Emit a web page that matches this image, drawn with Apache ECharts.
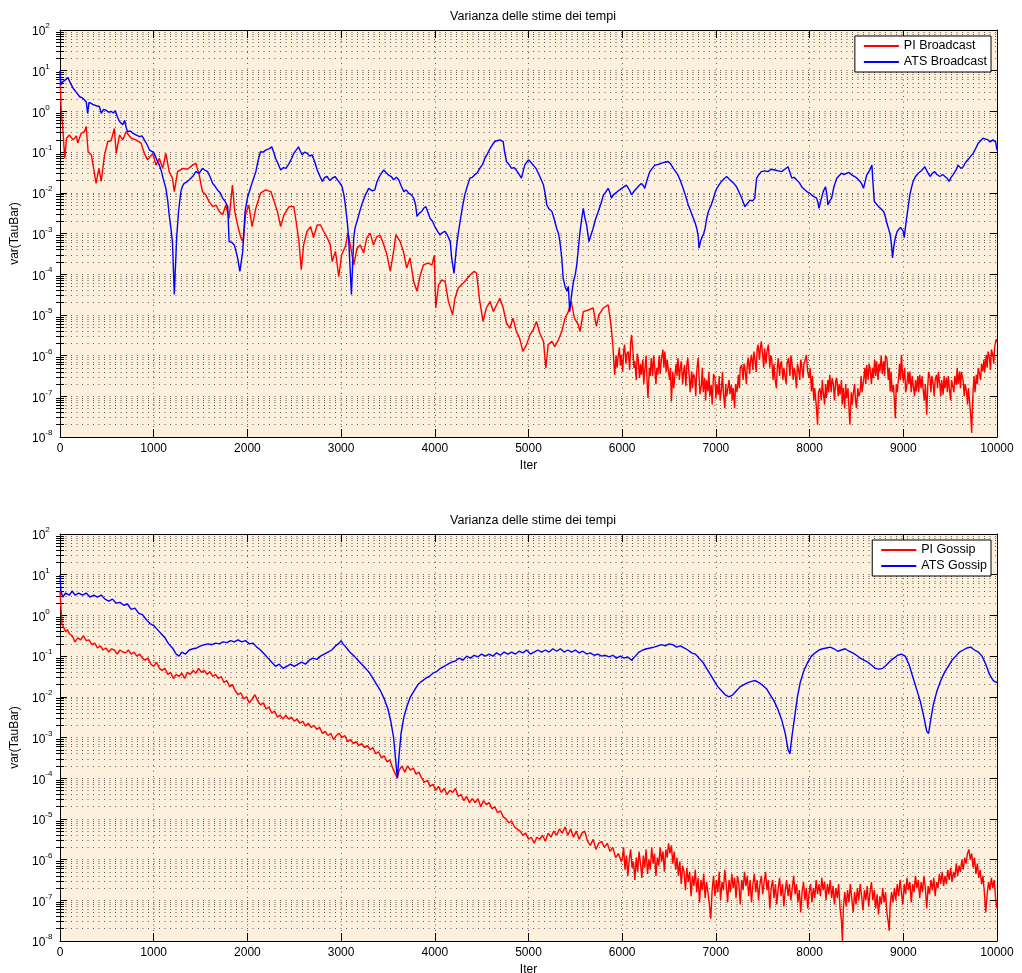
<!DOCTYPE html>
<html>
<head>
<meta charset="utf-8">
<title>Varianza delle stime dei tempi</title>
<script src="https://cdn.jsdelivr.net/npm/echarts@6/dist/echarts.min.js"></script>
<style>
  html, body { margin: 0; padding: 0; background: #ffffff; }
  #chart { width: 1022px; height: 973px; }
</style>
</head>
<body>
<div id="chart"></div>
<script>
// Each series is a list of [iteration, log10(variance)] pairs.
const piBroadcast = [[0,1.0],[8,0.3],[15,-0.1],[25,-0.25],[50,-1.15],[70,-0.66],[100,-0.58],[140,-0.7],[175,-0.6],[190,-0.78],[225,-0.54],[260,-0.5],[280,-0.37],[300,-0.99],[335,-1.07],[370,-1.56],[385,-1.77],[415,-1.4],[440,-1.72],[475,-1.07],[510,-0.74],[545,-0.72],[580,-0.42],[600,-1.03],[635,-0.58],[670,-0.7],[705,-0.5],[760,-0.66],[810,-0.7],[865,-0.78],[900,-1.03],[935,-1.19],[990,-1.03],[1025,-1.32],[1060,-1.15],[1095,-1.4],[1130,-1.03],[1165,-1.48],[1200,-1.64],[1220,-1.97],[1255,-1.48],[1310,-1.4],[1360,-1.42],[1415,-1.32],[1450,-1.27],[1485,-1.56],[1520,-1.97],[1555,-2.05],[1590,-2.21],[1630,-2.34],[1665,-2.3],[1700,-2.46],[1735,-2.54],[1770,-2.3],[1805,-2.63],[1840,-1.81],[1865,-2.46],[1895,-2.79],[1930,-3.1],[1955,-3.2],[1980,-2.54],[2015,-2.3],[2050,-2.83],[2090,-2.38],[2140,-2.01],[2195,-1.93],[2250,-1.97],[2285,-2.21],[2320,-2.46],[2355,-2.83],[2390,-2.54],[2445,-2.34],[2495,-2.34],[2520,-2.7],[2550,-3.2],[2575,-3.89],[2600,-3.28],[2635,-2.95],[2675,-2.83],[2705,-3.1],[2745,-2.79],[2780,-2.79],[2815,-2.95],[2850,-3.1],[2885,-3.28],[2905,-3.69],[2940,-3.44],[2975,-4.06],[3005,-3.53],[3045,-3.32],[3075,-2.99],[3110,-3.44],[3135,-3.77],[3170,-3.36],[3205,-3.28],[3240,-3.48],[3275,-3.1],[3310,-2.99],[3345,-3.28],[3380,-3.08],[3415,-3.04],[3450,-3.24],[3490,-3.53],[3525,-3.93],[3560,-3.44],[3585,-3.03],[3630,-3.2],[3665,-3.44],[3700,-3.85],[3735,-3.6],[3775,-4.18],[3810,-4.42],[3845,-4.02],[3880,-3.77],[3925,-3.73],[3970,-3.77],[3995,-3.53],[4010,-4.83],[4040,-4.26],[4075,-4.14],[4110,-4.18],[4145,-4.67],[4190,-5.0],[4215,-4.59],[4250,-4.34],[4285,-4.26],[4320,-4.18],[4375,-4.02],[4420,-3.93],[4445,-3.97],[4480,-4.67],[4515,-5.16],[4550,-4.83],[4590,-4.67],[4625,-4.92],[4660,-4.75],[4695,-4.59],[4730,-4.83],[4765,-5.2],[4800,-5.33],[4835,-5.08],[4870,-5.41],[4905,-5.57],[4940,-5.9],[4980,-5.73],[5015,-5.49],[5050,-5.37],[5085,-5.16],[5120,-5.45],[5160,-5.65],[5185,-6.31],[5210,-5.73],[5250,-5.65],[5280,-5.78],[5320,-5.61],[5355,-5.41],[5390,-5.08],[5425,-4.92],[5455,-4.67],[5490,-5.08],[5530,-5.24],[5550,-5.41],[5585,-4.92],[5640,-4.88],[5690,-4.83],[5725,-5.28],[5750,-5.0],[5800,-4.83],[5850,-4.75],[5880,-5.24],[5900,-5.73],[5912,-6.2],[5920,-6.47],[5935,-6.0],[5945,-6.3],[5955,-6.06],[5970,-5.8],[5980,-6.25],[5990,-5.98],[6005,-6.4],[6015,-5.9],[6025,-5.73],[6040,-6.2],[6050,-5.95],[6065,-5.9],[6080,-6.35],[6090,-5.7],[6100,-5.49],[6115,-5.9],[6125,-6.3],[6135,-6.14],[6150,-6.6],[6160,-5.95],[6170,-6.06],[6185,-6.55],[6195,-6.2],[6205,-6.47],[6220,-6.1],[6230,-6.7],[6240,-6.39],[6255,-6.0],[6265,-6.6],[6275,-7.04],[6290,-6.3],[6300,-6.5],[6310,-6.06],[6325,-6.5],[6335,-6.0],[6345,-6.23],[6360,-6.7],[6370,-6.3],[6380,-6.47],[6395,-6.0],[6405,-6.45],[6420,-6.06],[6435,-5.85],[6445,-6.3],[6455,-5.9],[6470,-6.4],[6480,-6.1],[6490,-6.06],[6505,-6.6],[6515,-6.3],[6525,-7.13],[6540,-6.4],[6550,-6.8],[6560,-6.55],[6575,-6.2],[6585,-6.5],[6595,-6.06],[6610,-6.6],[6620,-6.3],[6630,-6.14],[6645,-6.7],[6655,-6.4],[6665,-6.23],[6680,-6.75],[6690,-6.2],[6700,-6.06],[6715,-6.5],[6725,-6.9],[6740,-6.39],[6750,-6.8],[6760,-6.45],[6775,-6.55],[6785,-7.0],[6795,-6.4],[6810,-6.06],[6820,-6.5],[6830,-6.95],[6845,-6.72],[6855,-6.3],[6865,-6.9],[6880,-6.55],[6890,-7.1],[6900,-6.6],[6915,-6.88],[6925,-6.4],[6935,-7.0],[6950,-6.72],[6960,-7.2],[6975,-6.45],[6990,-6.55],[7000,-7.05],[7010,-6.7],[7025,-6.96],[7035,-6.5],[7045,-7.1],[7060,-6.8],[7070,-6.4],[7080,-6.9],[7095,-7.29],[7105,-6.7],[7115,-7.0],[7130,-7.04],[7140,-6.6],[7150,-6.95],[7165,-6.72],[7175,-7.1],[7185,-6.8],[7200,-7.29],[7210,-6.7],[7225,-6.9],[7240,-6.47],[7250,-6.8],[7260,-6.3],[7275,-6.23],[7290,-6.6],[7300,-6.2],[7310,-6.31],[7325,-6.7],[7335,-6.2],[7345,-6.06],[7360,-6.45],[7370,-6.1],[7380,-5.98],[7395,-6.35],[7405,-5.9],[7415,-6.06],[7430,-6.4],[7440,-5.85],[7450,-5.73],[7465,-6.1],[7475,-5.8],[7485,-5.65],[7500,-6.0],[7510,-6.3],[7520,-5.82],[7535,-6.2],[7545,-5.9],[7560,-5.73],[7575,-6.3],[7585,-6.0],[7595,-6.06],[7610,-6.6],[7620,-6.2],[7630,-6.55],[7645,-6.8],[7655,-6.3],[7665,-6.06],[7680,-6.5],[7690,-6.2],[7700,-6.14],[7715,-6.6],[7725,-6.3],[7740,-6.31],[7750,-6.7],[7760,-6.2],[7775,-6.06],[7790,-6.5],[7800,-6.0],[7810,-6.14],[7825,-6.6],[7835,-6.3],[7845,-6.39],[7860,-6.8],[7870,-6.2],[7880,-6.31],[7895,-6.6],[7905,-6.1],[7915,-6.23],[7930,-6.55],[7940,-6.2],[7950,-6.14],[7965,-5.98],[7980,-6.4],[7995,-6.55],[8005,-6.3],[8020,-6.88],[8030,-6.5],[8045,-7.1],[8055,-6.8],[8070,-7.2],[8085,-7.7],[8095,-6.9],[8110,-6.8],[8125,-7.1],[8135,-6.6],[8145,-6.88],[8160,-7.2],[8170,-6.7],[8180,-7.04],[8195,-6.6],[8205,-6.9],[8215,-6.47],[8230,-6.9],[8240,-6.55],[8255,-6.72],[8265,-7.1],[8280,-6.6],[8290,-6.55],[8305,-7.0],[8315,-6.7],[8325,-6.96],[8340,-6.6],[8350,-7.2],[8360,-6.8],[8375,-7.3],[8385,-6.7],[8395,-7.04],[8410,-6.8],[8420,-7.3],[8430,-7.7],[8445,-6.9],[8455,-7.2],[8465,-6.96],[8480,-6.7],[8490,-7.1],[8500,-7.29],[8515,-6.8],[8525,-7.0],[8540,-6.88],[8550,-6.5],[8560,-6.9],[8575,-6.64],[8590,-6.3],[8600,-6.7],[8610,-6.23],[8625,-6.6],[8635,-6.2],[8645,-6.31],[8660,-6.7],[8670,-6.3],[8680,-6.55],[8695,-6.1],[8705,-6.5],[8715,-6.14],[8730,-6.6],[8740,-6.2],[8750,-6.39],[8765,-6.0],[8775,-6.45],[8790,-6.14],[8800,-6.5],[8810,-6.0],[8825,-6.06],[8840,-6.6],[8850,-6.3],[8860,-6.88],[8870,-6.4],[8880,-6.9],[8895,-6.72],[8905,-7.1],[8915,-7.54],[8925,-6.7],[8935,-6.9],[8950,-6.55],[8960,-6.2],[8970,-6.6],[8980,-5.98],[8990,-6.4],[9000,-6.64],[9015,-6.3],[9025,-6.9],[9035,-6.8],[9050,-6.4],[9060,-6.7],[9070,-6.39],[9085,-6.9],[9095,-6.5],[9105,-6.72],[9120,-7.0],[9130,-6.6],[9140,-6.88],[9155,-6.5],[9165,-6.9],[9175,-6.47],[9190,-6.8],[9200,-6.5],[9210,-6.8],[9225,-7.1],[9235,-6.7],[9250,-7.45],[9260,-6.8],[9270,-6.4],[9285,-6.55],[9295,-6.9],[9305,-6.5],[9320,-6.72],[9330,-7.0],[9340,-6.6],[9355,-6.47],[9365,-6.8],[9375,-6.4],[9390,-6.72],[9400,-7.0],[9410,-6.6],[9425,-6.96],[9435,-6.5],[9445,-6.8],[9460,-6.55],[9470,-6.9],[9480,-6.5],[9495,-6.88],[9505,-7.1],[9515,-6.6],[9530,-6.64],[9540,-6.9],[9550,-6.5],[9565,-6.72],[9575,-6.3],[9585,-6.7],[9600,-6.39],[9610,-6.8],[9620,-6.4],[9640,-6.64],[9650,-7.0],[9660,-6.7],[9675,-6.88],[9685,-7.2],[9695,-6.8],[9710,-7.21],[9720,-7.5],[9730,-7.9],[9738,-7.2],[9745,-6.88],[9755,-6.5],[9765,-6.9],[9780,-6.47],[9790,-6.7],[9800,-6.3],[9815,-6.31],[9825,-6.6],[9835,-6.2],[9850,-6.39],[9860,-6.1],[9870,-6.4],[9885,-5.98],[9895,-6.3],[9905,-5.9],[9920,-6.06],[9930,-6.35],[9940,-5.85],[9955,-5.98],[9965,-6.2],[9975,-5.8],[9990,-5.6],[10000,-5.67]];

const atsBroadcast = [[0,1.0],[10,0.65],[25,0.72],[40,0.7],[60,0.78],[85,0.83],[110,0.7],[140,0.57],[170,0.48],[210,0.36],[240,0.33],[280,0.24],[295,-0.05],[310,0.22],[330,0.19],[350,0.17],[385,0.14],[420,0.12],[440,-0.05],[465,0.05],[490,0.03],[520,-0.02],[545,0.0],[570,-0.04],[590,0.02],[610,-0.12],[635,-0.25],[670,-0.33],[690,-0.22],[705,-0.38],[720,-0.5],[750,-0.48],[780,-0.54],[815,-0.58],[850,-0.62],[875,-0.6],[900,-0.7],[930,-0.82],[955,-0.95],[980,-0.98],[1005,-1.03],[1035,-1.2],[1060,-1.32],[1080,-1.45],[1100,-1.64],[1130,-1.89],[1150,-2.2],[1165,-2.54],[1185,-2.9],[1200,-3.2],[1220,-4.5],[1245,-3.1],[1265,-2.46],[1290,-1.97],[1305,-1.85],[1325,-1.77],[1350,-1.74],[1380,-1.68],[1415,-1.6],[1450,-1.48],[1485,-1.52],[1520,-1.4],[1545,-1.44],[1575,-1.48],[1600,-1.6],[1630,-1.77],[1655,-1.84],[1680,-1.93],[1710,-2.0],[1735,-2.13],[1760,-2.2],[1790,-2.34],[1805,-3.2],[1835,-3.22],[1860,-3.28],[1880,-3.45],[1895,-3.6],[1920,-3.93],[1950,-3.44],[1975,-2.46],[2000,-2.13],[2030,-1.9],[2055,-1.72],[2090,-1.48],[2115,-1.2],[2140,-0.99],[2170,-1.0],[2195,-0.95],[2230,-0.92],[2260,-0.87],[2280,-1.0],[2300,-1.15],[2330,-1.3],[2355,-1.44],[2385,-1.38],[2410,-1.4],[2440,-1.3],[2460,-1.27],[2480,-1.12],[2495,-1.03],[2520,-0.95],[2545,-0.87],[2565,-0.98],[2585,-1.07],[2610,-1.0],[2640,-1.03],[2665,-1.1],[2690,-1.07],[2720,-1.25],[2745,-1.44],[2775,-1.6],[2800,-1.72],[2825,-1.62],[2850,-1.6],[2880,-1.7],[2905,-1.64],[2935,-1.6],[2960,-1.68],[2985,-1.75],[3010,-1.85],[3030,-2.05],[3045,-2.3],[3065,-2.7],[3080,-3.1],[3110,-4.5],[3135,-3.1],[3150,-2.85],[3170,-2.7],[3200,-2.45],[3225,-2.26],[3260,-2.05],[3295,-1.89],[3330,-1.95],[3360,-1.93],[3380,-1.75],[3400,-1.64],[3430,-1.52],[3455,-1.44],[3480,-1.5],[3505,-1.56],[3535,-1.6],[3560,-1.68],[3590,-1.62],[3615,-1.68],[3645,-1.85],[3670,-1.97],[3695,-1.93],[3720,-2.01],[3750,-2.05],[3775,-2.13],[3795,-2.3],[3810,-2.58],[3835,-2.5],[3860,-2.46],[3880,-2.38],[3905,-2.34],[3930,-2.5],[3950,-2.63],[3975,-2.7],[4000,-2.83],[4030,-2.95],[4055,-3.03],[4080,-2.98],[4110,-2.95],[4130,-3.02],[4150,-2.99],[4165,-3.2],[4180,-3.6],[4205,-3.98],[4230,-3.36],[4250,-3.0],[4270,-2.7],[4295,-2.35],[4320,-2.05],[4345,-1.85],[4375,-1.64],[4400,-1.62],[4425,-1.56],[4455,-1.5],[4480,-1.4],[4510,-1.3],[4535,-1.15],[4560,-1.05],[4590,-0.91],[4615,-0.82],[4640,-0.74],[4665,-0.72],[4695,-0.7],[4730,-0.74],[4745,-1.0],[4765,-1.23],[4790,-1.3],[4820,-1.4],[4845,-1.38],[4870,-1.44],[4900,-1.55],[4925,-1.64],[4945,-1.45],[4960,-1.32],[4980,-1.25],[5000,-1.19],[5025,-1.25],[5050,-1.32],[5080,-1.4],[5105,-1.52],[5130,-1.65],[5160,-1.81],[5180,-2.05],[5195,-2.3],[5220,-2.4],[5250,-2.46],[5275,-2.65],[5300,-2.87],[5320,-3.0],[5335,-3.2],[5355,-3.6],[5370,-4.1],[5390,-4.3],[5410,-4.42],[5425,-4.3],[5440,-4.92],[5460,-4.5],[5480,-4.18],[5500,-4.0],[5515,-3.77],[5535,-3.3],[5550,-2.95],[5570,-2.6],[5585,-2.38],[5600,-2.6],[5620,-2.79],[5645,-3.2],[5665,-3.05],[5690,-2.87],[5715,-2.65],[5745,-2.46],[5775,-2.25],[5800,-2.05],[5825,-1.98],[5850,-1.89],[5870,-2.0],[5885,-2.13],[5905,-2.05],[5920,-2.01],[5960,-1.95],[5995,-1.89],[6020,-1.85],[6045,-1.81],[6075,-1.92],[6100,-2.05],[6130,-1.95],[6155,-1.89],[6180,-1.82],[6205,-1.77],[6225,-1.82],[6240,-1.89],[6270,-1.65],[6295,-1.48],[6320,-1.4],[6350,-1.32],[6385,-1.3],[6420,-1.27],[6455,-1.25],[6490,-1.23],[6520,-1.3],[6545,-1.4],[6570,-1.48],[6595,-1.56],[6620,-1.7],[6650,-1.89],[6680,-2.1],[6705,-2.3],[6730,-2.45],[6760,-2.63],[6780,-2.75],[6795,-2.87],[6810,-3.05],[6820,-3.36],[6835,-3.2],[6850,-3.1],[6870,-3.0],[6885,-2.87],[6900,-2.65],[6920,-2.46],[6950,-2.3],[6975,-2.13],[6990,-2.0],[7010,-1.89],[7035,-1.8],[7060,-1.72],[7090,-1.65],[7115,-1.6],[7140,-1.66],[7170,-1.72],[7195,-1.78],[7220,-1.85],[7250,-2.0],[7275,-2.13],[7295,-2.25],[7310,-2.34],[7340,-2.25],[7365,-2.18],[7390,-2.2],[7415,-2.13],[7425,-1.85],[7435,-1.64],[7460,-1.55],[7485,-1.48],[7520,-1.46],[7555,-1.48],[7590,-1.42],[7630,-1.44],[7665,-1.46],[7700,-1.48],[7735,-1.42],[7770,-1.36],[7790,-1.5],[7810,-1.64],[7835,-1.62],[7860,-1.68],[7890,-1.75],[7915,-1.85],[7945,-1.92],[7970,-1.97],[7995,-2.0],[8020,-2.05],[8050,-2.1],[8075,-2.13],[8090,-2.25],[8100,-2.38],[8125,-2.15],[8145,-1.97],[8170,-1.85],[8185,-2.05],[8195,-2.3],[8215,-2.2],[8235,-2.13],[8260,-1.85],[8290,-1.64],[8315,-1.58],[8340,-1.52],[8370,-1.55],[8395,-1.52],[8420,-1.5],[8450,-1.56],[8480,-1.6],[8505,-1.64],[8540,-1.72],[8560,-1.8],[8575,-1.89],[8595,-1.7],[8610,-1.56],[8640,-1.45],[8665,-1.32],[8675,-1.7],[8690,-2.21],[8715,-2.28],[8735,-2.34],[8765,-2.4],[8790,-2.46],[8810,-2.6],[8825,-2.75],[8845,-2.9],[8860,-3.03],[8875,-3.3],[8885,-3.6],[8900,-3.3],[8915,-3.1],[8935,-2.95],[8950,-2.9],[8970,-2.85],[8985,-2.87],[9000,-2.95],[9010,-3.1],[9020,-2.9],[9035,-2.63],[9055,-2.3],[9070,-2.05],[9090,-1.85],[9105,-1.72],[9130,-1.6],[9160,-1.52],[9195,-1.45],[9230,-1.36],[9260,-1.5],[9285,-1.6],[9310,-1.52],[9335,-1.48],[9360,-1.55],[9390,-1.6],[9420,-1.55],[9445,-1.6],[9470,-1.65],[9490,-1.72],[9510,-1.62],[9530,-1.56],[9560,-1.45],[9585,-1.32],[9615,-1.4],[9640,-1.36],[9665,-1.25],[9690,-1.19],[9720,-1.1],[9745,-1.03],[9775,-0.9],[9800,-0.78],[9825,-0.72],[9850,-0.66],[9880,-0.68],[9905,-0.7],[9925,-0.75],[9940,-0.78],[9955,-0.7],[9970,-0.66],[9985,-0.75],[10000,-0.95]];

const piGossip = [[0,0.6],[10,0.2],[20,-0.2],[40,-0.3],[60,-0.4],[80,-0.35],[100,-0.45],[130,-0.5],[160,-0.65],[190,-0.55],[220,-0.6],[250,-0.5],[280,-0.62],[310,-0.6],[340,-0.72],[370,-0.68],[400,-0.8],[430,-0.75],[460,-0.85],[490,-0.8],[520,-0.9],[550,-0.82],[580,-0.85],[610,-0.95],[640,-0.85],[670,-0.9],[700,-0.92],[730,-0.85],[760,-0.95],[790,-0.9],[820,-1.0],[850,-0.95],[880,-1.05],[910,-1.1],[940,-1.05],[970,-1.2],[1000,-1.25],[1030,-1.15],[1060,-1.3],[1090,-1.35],[1120,-1.3],[1150,-1.45],[1180,-1.4],[1210,-1.55],[1240,-1.45],[1270,-1.5],[1300,-1.42],[1330,-1.55],[1360,-1.4],[1390,-1.45],[1420,-1.35],[1450,-1.42],[1480,-1.3],[1510,-1.4],[1540,-1.35],[1570,-1.45],[1600,-1.38],[1630,-1.5],[1660,-1.45],[1690,-1.55],[1720,-1.5],[1750,-1.65],[1780,-1.6],[1810,-1.75],[1840,-1.7],[1870,-1.85],[1900,-1.95],[1930,-1.9],[1960,-2.05],[1990,-2.0],[2020,-2.15],[2050,-2.05],[2080,-1.95],[2110,-2.1],[2140,-2.2],[2170,-2.15],[2200,-2.3],[2230,-2.25],[2260,-2.4],[2290,-2.35],[2320,-2.5],[2350,-2.45],[2380,-2.55],[2410,-2.45],[2440,-2.55],[2470,-2.5],[2500,-2.6],[2530,-2.55],[2560,-2.65],[2590,-2.6],[2620,-2.72],[2650,-2.65],[2680,-2.75],[2710,-2.7],[2740,-2.8],[2770,-2.75],[2800,-2.9],[2830,-2.85],[2860,-2.95],[2890,-2.9],[2920,-3.05],[2950,-2.95],[2980,-2.9],[3010,-3.0],[3040,-2.95],[3070,-3.1],[3100,-3.05],[3130,-3.15],[3160,-3.1],[3190,-3.2],[3220,-3.15],[3250,-3.25],[3280,-3.2],[3310,-3.3],[3340,-3.25],[3370,-3.4],[3400,-3.35],[3430,-3.5],[3460,-3.45],[3490,-3.6],[3520,-3.55],[3550,-3.75],[3580,-3.9],[3600,-4.0],[3620,-3.8],[3650,-3.7],[3680,-3.85],[3710,-3.7],[3740,-3.8],[3770,-3.75],[3800,-3.9],[3830,-3.85],[3860,-4.0],[3890,-4.1],[3920,-4.05],[3950,-4.2],[3980,-4.15],[4010,-4.3],[4040,-4.2],[4070,-4.35],[4100,-4.25],[4130,-4.4],[4160,-4.3],[4190,-4.35],[4220,-4.25],[4250,-4.45],[4280,-4.4],[4310,-4.55],[4340,-4.45],[4370,-4.6],[4400,-4.5],[4430,-4.6],[4460,-4.5],[4490,-4.7],[4520,-4.55],[4550,-4.65],[4580,-4.6],[4610,-4.75],[4640,-4.7],[4670,-4.85],[4700,-4.8],[4730,-4.95],[4760,-5.0],[4790,-5.1],[4820,-5.05],[4850,-5.2],[4880,-5.25],[4910,-5.3],[4940,-5.4],[4970,-5.35],[5000,-5.5],[5030,-5.45],[5060,-5.6],[5090,-5.45],[5120,-5.5],[5150,-5.4],[5180,-5.55],[5210,-5.35],[5240,-5.45],[5270,-5.3],[5300,-5.4],[5330,-5.25],[5360,-5.35],[5390,-5.2],[5420,-5.4],[5450,-5.25],[5480,-5.45],[5510,-5.3],[5540,-5.5],[5570,-5.35],[5600,-5.3],[5630,-5.55],[5660,-5.65],[5690,-5.5],[5720,-5.75],[5750,-5.6],[5780,-5.55],[5810,-5.7],[5840,-5.6],[5870,-5.8],[5900,-5.7],[5930,-5.95],[5960,-5.85],[5990,-6.05],[6000,-6.0],[6015,-5.7],[6030,-6.25],[6045,-5.9],[6060,-6.4],[6075,-6.0],[6090,-5.75],[6105,-6.2],[6120,-6.05],[6135,-6.5],[6150,-5.95],[6165,-6.3],[6180,-5.8],[6195,-6.1],[6210,-6.45],[6225,-5.9],[6240,-6.2],[6255,-5.75],[6270,-6.35],[6285,-6.0],[6300,-6.25],[6315,-5.7],[6330,-6.1],[6345,-5.85],[6360,-6.4],[6375,-5.95],[6390,-6.15],[6405,-5.7],[6420,-6.05],[6435,-5.8],[6450,-6.3],[6465,-5.75],[6480,-5.95],[6495,-5.6],[6510,-5.85],[6525,-5.65],[6540,-6.1],[6555,-5.8],[6570,-6.25],[6585,-5.95],[6600,-6.4],[6615,-6.05],[6630,-6.6],[6645,-6.15],[6660,-6.3],[6675,-6.75],[6690,-6.2],[6705,-6.55],[6720,-6.3],[6735,-6.9],[6750,-6.4],[6765,-6.65],[6780,-6.25],[6795,-6.8],[6810,-6.45],[6825,-7.05],[6840,-6.5],[6855,-6.75],[6870,-6.35],[6885,-6.95],[6900,-6.55],[6915,-6.8],[6930,-7.1],[6945,-7.45],[6960,-6.75],[6975,-6.4],[6990,-6.9],[7005,-6.5],[7020,-6.8],[7035,-6.3],[7050,-7.0],[7065,-6.55],[7080,-6.75],[7095,-6.25],[7110,-6.6],[7125,-7.05],[7140,-6.5],[7155,-6.8],[7170,-6.35],[7185,-6.7],[7200,-6.45],[7215,-6.95],[7230,-6.4],[7245,-6.6],[7260,-7.1],[7275,-6.5],[7290,-6.75],[7305,-6.3],[7320,-6.65],[7335,-6.4],[7350,-6.9],[7365,-6.5],[7380,-7.05],[7395,-6.6],[7410,-6.35],[7425,-6.8],[7440,-6.5],[7455,-7.0],[7470,-6.6],[7485,-6.4],[7500,-6.85],[7515,-6.55],[7530,-6.3],[7545,-6.75],[7560,-6.5],[7575,-7.2],[7590,-6.7],[7605,-6.5],[7620,-6.95],[7635,-6.6],[7650,-7.1],[7665,-6.7],[7680,-6.45],[7695,-6.9],[7710,-6.6],[7725,-7.15],[7740,-6.75],[7755,-6.5],[7770,-6.9],[7785,-6.6],[7800,-7.0],[7815,-6.7],[7830,-6.4],[7845,-6.85],[7860,-6.6],[7875,-7.05],[7890,-6.75],[7905,-7.3],[7920,-6.8],[7935,-6.55],[7950,-7.0],[7965,-6.7],[7980,-7.2],[7995,-6.8],[8010,-6.6],[8025,-7.05],[8040,-6.7],[8055,-6.95],[8070,-6.5],[8085,-6.85],[8100,-6.6],[8115,-6.9],[8130,-6.45],[8145,-6.75],[8160,-6.55],[8175,-7.0],[8190,-6.6],[8205,-6.85],[8220,-6.5],[8235,-6.95],[8250,-6.65],[8265,-7.1],[8280,-6.7],[8295,-6.95],[8310,-6.6],[8325,-7.2],[8340,-7.5],[8350,-8.0],[8360,-7.2],[8375,-6.8],[8390,-7.15],[8405,-6.75],[8420,-7.05],[8435,-6.6],[8450,-6.95],[8465,-7.3],[8480,-6.8],[8495,-7.1],[8510,-6.7],[8525,-7.0],[8540,-6.6],[8555,-6.9],[8570,-7.25],[8585,-6.75],[8600,-7.0],[8615,-6.65],[8630,-7.15],[8645,-6.8],[8660,-6.55],[8675,-7.0],[8690,-6.75],[8705,-7.2],[8720,-6.85],[8735,-7.35],[8750,-6.9],[8765,-7.1],[8780,-6.7],[8795,-7.05],[8810,-6.8],[8825,-7.3],[8840,-7.55],[8850,-7.75],[8860,-7.1],[8875,-6.8],[8890,-7.05],[8905,-6.7],[8920,-7.0],[8935,-6.6],[8950,-6.9],[8965,-6.5],[8980,-6.8],[8995,-7.1],[9010,-6.6],[9025,-6.85],[9040,-6.45],[9055,-6.75],[9070,-6.55],[9085,-7.05],[9100,-6.6],[9115,-6.8],[9130,-6.4],[9145,-6.7],[9160,-6.5],[9175,-6.95],[9190,-6.55],[9205,-6.8],[9220,-6.4],[9235,-6.7],[9250,-7.2],[9265,-6.65],[9280,-6.85],[9295,-6.5],[9310,-6.75],[9325,-6.45],[9340,-6.9],[9355,-6.55],[9370,-6.7],[9385,-6.35],[9400,-6.6],[9415,-6.3],[9430,-6.65],[9445,-6.4],[9460,-6.6],[9475,-6.25],[9490,-6.5],[9505,-6.2],[9520,-6.55],[9535,-6.3],[9550,-6.45],[9565,-6.1],[9580,-6.4],[9595,-6.15],[9610,-6.3],[9625,-6.0],[9640,-6.25],[9655,-5.95],[9670,-6.1],[9685,-5.85],[9700,-5.75],[9715,-6.0],[9730,-5.85],[9745,-6.2],[9760,-5.95],[9775,-6.35],[9790,-6.1],[9805,-6.45],[9820,-6.25],[9835,-6.6],[9850,-6.4],[9865,-6.8],[9880,-7.3],[9895,-6.85],[9910,-6.55],[9925,-6.75],[9940,-6.45],[9955,-6.7],[9970,-6.5],[9985,-6.95],[10000,-7.2]];

const atsGossip = [[0,1.0],[10,0.6],[30,0.45],[60,0.55],[100,0.5],[130,0.6],[160,0.5],[200,0.55],[240,0.5],[280,0.55],[320,0.45],[360,0.5],[400,0.45],[440,0.5],[480,0.4],[520,0.35],[560,0.4],[600,0.3],[640,0.32],[680,0.25],[720,0.28],[760,0.15],[800,0.18],[840,0.05],[880,0.02],[920,-0.1],[960,-0.2],[1000,-0.25],[1040,-0.35],[1080,-0.45],[1120,-0.55],[1160,-0.7],[1200,-0.8],[1240,-0.95],[1270,-1.0],[1300,-0.9],[1340,-0.95],[1380,-0.85],[1420,-0.82],[1460,-0.8],[1500,-0.75],[1540,-0.72],[1580,-0.7],[1620,-0.72],[1660,-0.68],[1700,-0.7],[1740,-0.65],[1780,-0.67],[1820,-0.62],[1860,-0.65],[1900,-0.6],[1940,-0.65],[1980,-0.62],[2020,-0.7],[2060,-0.68],[2100,-0.78],[2140,-0.85],[2180,-0.95],[2220,-1.05],[2260,-1.15],[2300,-1.25],[2340,-1.2],[2380,-1.3],[2420,-1.25],[2460,-1.2],[2500,-1.25],[2540,-1.2],[2580,-1.15],[2620,-1.2],[2660,-1.1],[2700,-1.05],[2740,-1.08],[2780,-1.0],[2820,-0.95],[2860,-0.9],[2900,-0.85],[2940,-0.75],[2980,-0.68],[3000,-0.62],[3020,-0.7],[3060,-0.8],[3100,-0.92],[3140,-1.0],[3180,-1.1],[3220,-1.2],[3260,-1.3],[3300,-1.4],[3340,-1.55],[3380,-1.7],[3420,-1.85],[3460,-2.05],[3500,-2.3],[3530,-2.6],[3560,-3.0],[3580,-3.5],[3600,-4.0],[3620,-3.4],[3640,-2.9],[3670,-2.5],[3700,-2.25],[3740,-2.0],[3780,-1.85],[3820,-1.7],[3860,-1.62],[3900,-1.55],[3940,-1.5],[3980,-1.42],[4020,-1.38],[4060,-1.3],[4100,-1.25],[4140,-1.2],[4180,-1.15],[4220,-1.12],[4260,-1.05],[4300,-1.1],[4340,-1.0],[4380,-1.05],[4420,-0.98],[4460,-1.02],[4500,-0.95],[4540,-1.0],[4580,-0.95],[4620,-1.0],[4660,-0.92],[4700,-0.98],[4740,-0.9],[4780,-0.95],[4820,-0.9],[4860,-0.95],[4900,-0.88],[4940,-0.92],[4980,-0.85],[5020,-0.95],[5060,-0.9],[5100,-0.85],[5140,-0.9],[5180,-0.85],[5220,-0.9],[5260,-0.82],[5300,-0.88],[5340,-0.82],[5380,-0.9],[5420,-0.85],[5460,-0.9],[5500,-0.85],[5540,-0.92],[5580,-0.88],[5620,-0.95],[5660,-0.92],[5700,-0.98],[5740,-0.95],[5780,-1.0],[5820,-0.98],[5860,-1.02],[5900,-0.98],[5940,-1.05],[5980,-1.0],[6020,-1.05],[6060,-1.02],[6100,-1.1],[6140,-1.0],[6180,-0.9],[6220,-0.85],[6260,-0.82],[6300,-0.8],[6340,-0.78],[6380,-0.75],[6420,-0.72],[6460,-0.75],[6500,-0.7],[6540,-0.72],[6580,-0.78],[6620,-0.75],[6660,-0.8],[6700,-0.85],[6740,-0.92],[6780,-0.95],[6820,-1.05],[6860,-1.15],[6900,-1.3],[6940,-1.45],[6980,-1.6],[7020,-1.75],[7060,-1.85],[7100,-1.95],[7140,-2.0],[7180,-1.95],[7220,-1.85],[7260,-1.75],[7300,-1.7],[7340,-1.65],[7380,-1.62],[7420,-1.6],[7460,-1.65],[7500,-1.72],[7540,-1.8],[7580,-1.95],[7620,-2.1],[7660,-2.3],[7700,-2.55],[7740,-2.9],[7770,-3.3],[7790,-3.4],[7810,-3.0],[7840,-2.5],[7870,-2.0],[7900,-1.65],[7940,-1.35],[7980,-1.15],[8020,-1.0],[8060,-0.92],[8100,-0.85],[8140,-0.82],[8180,-0.8],[8220,-0.78],[8260,-0.82],[8300,-0.88],[8340,-0.85],[8380,-0.82],[8420,-0.88],[8460,-0.92],[8500,-0.98],[8540,-1.05],[8580,-1.1],[8620,-1.15],[8660,-1.22],[8700,-1.3],[8740,-1.32],[8780,-1.3],[8820,-1.22],[8860,-1.12],[8900,-1.05],[8940,-0.98],[8980,-0.95],[9020,-1.0],[9060,-1.2],[9100,-1.5],[9140,-1.8],[9180,-2.1],[9220,-2.5],[9250,-2.85],[9270,-2.9],[9290,-2.6],[9320,-2.2],[9360,-1.85],[9400,-1.6],[9440,-1.4],[9480,-1.25],[9520,-1.1],[9560,-1.0],[9600,-0.9],[9640,-0.85],[9680,-0.8],[9720,-0.78],[9760,-0.85],[9800,-0.9],[9840,-1.0],[9880,-1.2],[9920,-1.45],[9960,-1.6],[10000,-1.65]];

// Decade exponents of the log axis and the x tick range
const decades = [-8, -7, -6, -5, -4, -3, -2, -1, 0, 1, 2];
const iterTicks = [0, 1000, 2000, 3000, 4000, 5000, 6000, 7000, 8000, 9000, 10000];

const plotTitle = 'Varianza delle stime dei tempi';
const xName = 'Iter';
const yName = 'var(TauBar)';

const FONT = '"Liberation Sans", Arial, Helvetica, sans-serif';
const BG = '#fdf0dc';
const GRID_DOT = { color: '#3a3a3a', width: 1, type: [1, 4.5], opacity: 0.8 };

const yMin = Math.pow(10, decades[0]);
const yMax = Math.pow(10, decades[decades.length - 1]);

// 2..9 times each decade for the minor grid
const minorValues = [];
for (let i = 0; i < decades.length - 1; i++) {
  for (let m = 2; m <= 9; m++) minorValues.push(m * Math.pow(10, decades[i]));
}

const toValues = pts => pts.map(p => [p[0], Math.pow(10, p[1])]);

function expLabel(v) {
  const e = Math.round(Math.log10(v));
  return '{b|10}{s|' + e + '}';
}

const panels = [
  { top: 30, names: ['PI Broadcast', 'ATS Broadcast'], data: [piBroadcast, atsBroadcast], legendTop: 36 },
  { top: 534, names: ['PI Gossip', 'ATS Gossip'], data: [piGossip, atsGossip], legendTop: 540 }
];

const PLOT_H = 407;
const grids = [], xAxes = [], yAxes = [], series = [], titles = [], legends = [];

panels.forEach((p, gi) => {
  grids.push({
    left: 60, right: 25, top: p.top, height: PLOT_H, show: true, backgroundColor: BG, borderWidth: 0,
    containLabel: false, outerBoundsMode: 'none'
  });

  titles.push({
    text: plotTitle, left: 528, top: p.top - 25, textAlign: 'center',
    textStyle: { fontFamily: FONT, fontSize: 12.5, fontWeight: 'normal', color: '#000' }
  });

  // bottom x axis with labels
  xAxes.push({
    type: 'value', gridIndex: gi, min: iterTicks[0], max: iterTicks[iterTicks.length - 1], interval: 1000,
    position: 'bottom',
    name: xName, nameLocation: 'middle', nameGap: 23,
    nameTextStyle: { fontFamily: FONT, fontSize: 12, color: '#000' },
    axisLine: { onZero: false, lineStyle: { color: '#000', width: 1 } },
    axisTick: { inside: true, length: 8, lineStyle: { color: '#000' } },
    axisLabel: { fontFamily: FONT, fontSize: 12, color: '#000', margin: 6, formatter: v => String(v) },
    splitLine: { show: true, lineStyle: GRID_DOT }
  });
  // top x axis (box edge)
  xAxes.push({
    type: 'value', gridIndex: gi, min: 0, max: 10000, interval: 1000, position: 'top',
    axisLine: { onZero: false, lineStyle: { color: '#000', width: 1 } },
    axisTick: { inside: true, length: 8, lineStyle: { color: '#000' } },
    axisLabel: { show: false }, splitLine: { show: false }
  });

  const base = { type: 'log', logBase: 10, gridIndex: gi, min: yMin, max: yMax, interval: 1 };
  // left major axis with labels
  yAxes.push(Object.assign({}, base, {
    position: 'left',
    name: yName, nameLocation: 'middle', nameGap: 34, nameRotate: 90,
    nameTextStyle: { fontFamily: FONT, fontSize: 12, color: '#000' },
    axisLine: { onZero: false, lineStyle: { color: '#000', width: 1 } },
    axisTick: { inside: true, length: 7, lineStyle: { color: '#000' } },
    axisLabel: {
      formatter: expLabel, margin: 28, align: 'left', padding: [4, 0, 0, 0],
      rich: {
        b: { fontFamily: FONT, fontSize: 12, lineHeight: 12, color: '#000', verticalAlign: 'bottom' },
        s: { fontFamily: FONT, fontSize: 8, lineHeight: 8, color: '#000', verticalAlign: 'bottom', padding: [0, 0, 8, 0] }
      }
    },
    splitLine: { show: true, lineStyle: GRID_DOT }
  }));
  // left minor ticks + minor grid
  yAxes.push(Object.assign({}, base, {
    position: 'left',
    axisLine: { show: false },
    axisTick: { inside: true, length: 4, customValues: minorValues, lineStyle: { color: '#000' } },
    axisLabel: { show: false },
    splitLine: { show: true, lineStyle: GRID_DOT }
  }));
  // right box edge, major ticks
  yAxes.push(Object.assign({}, base, {
    position: 'right',
    axisLine: { onZero: false, lineStyle: { color: '#000', width: 1 } },
    axisTick: { inside: true, length: 7, lineStyle: { color: '#000' } },
    axisLabel: { show: false }, splitLine: { show: false }
  }));
  // right minor ticks
  yAxes.push(Object.assign({}, base, {
    position: 'right',
    axisLine: { show: false },
    axisTick: { inside: true, length: 4, customValues: minorValues, lineStyle: { color: '#000' } },
    axisLabel: { show: false }, splitLine: { show: false }
  }));

  const colors = ['#ff0000', '#0000ff'];
  p.names.forEach((name, si) => {
    series.push({
      name: name, type: 'line', xAxisIndex: gi * 2, yAxisIndex: gi * 4,
      data: toValues(p.data[si]), showSymbol: false, symbol: 'none',
      lineStyle: { color: colors[si], width: 1.4 }, itemStyle: { color: colors[si] },
      animation: false, silent: true, z: 3 + si
    });
  });

  legends.push({
    data: p.names, orient: 'vertical', right: 31, top: p.legendTop,
    backgroundColor: '#ffffff', borderColor: '#000', borderWidth: 1,
    padding: [3, 4, 3, 9], itemGap: 2, itemWidth: 35, itemHeight: 2, icon: 'rect',
    textStyle: { fontFamily: FONT, fontSize: 12.5, color: '#000', lineHeight: 14 },
    selectedMode: false
  });
});

const chart = echarts.init(document.getElementById('chart'), null, { renderer: 'canvas' });
chart.setOption({
  backgroundColor: '#ffffff',
  animation: false,
  title: titles,
  legend: legends,
  grid: grids,
  xAxis: xAxes,
  yAxis: yAxes,
  series: series
});
</script>
</body>
</html>
